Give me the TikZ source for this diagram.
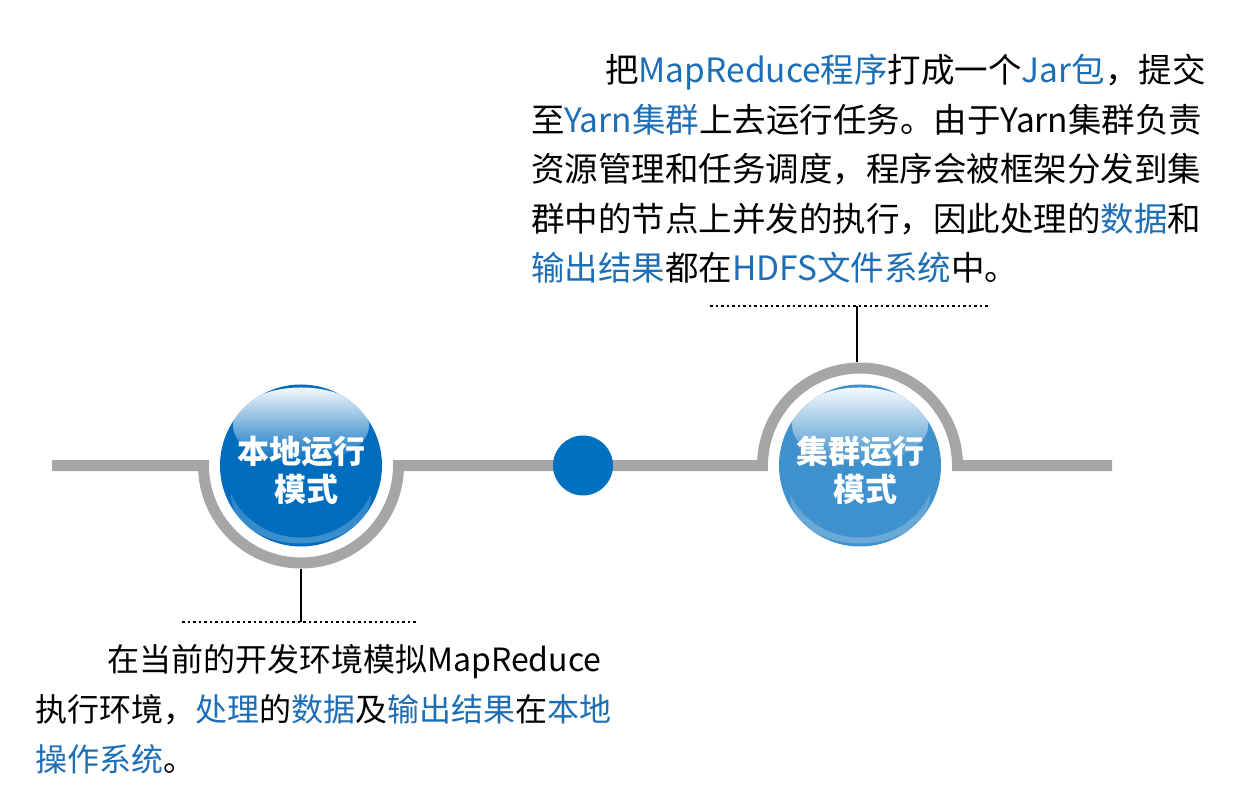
\documentclass[tikz,border=0pt]{standalone}
\usepackage{fontspec}
\setmainfont{Noto Sans CJK SC}
\usetikzlibrary{fadings}
\definecolor{tblue}{RGB}{30,110,182}
\definecolor{dotblue}{RGB}{0,112,192}
\definecolor{localc}{RGB}{0,108,190}
\definecolor{clusterc}{RGB}{62,145,204}
\definecolor{railc}{RGB}{166,166,166}
\tikzfading[name=glossfade, top color=transparent!5, bottom color=transparent!100]
\tikzfading[name=rimfade, top color=transparent!100, bottom color=transparent!75]
\newcommand\dropline[1]{\raisebox{-5pt}[\height][\depth]{#1}}
\tikzset{
  rail/.style={railc, line width=11pt},
  bubble/.style={circle, minimum size=162pt, inner sep=0pt, fill=#1, text=white,
    align=center, font=\fontsize{32}{38}\selectfont\bfseries,
    path picture={
      \fill[white, path fading=rimfade] ([yshift=-30pt]path picture bounding box.center) ellipse [x radius=70pt, y radius=48pt];
      \fill[#1] (path picture bounding box.center) ellipse [x radius=76pt, y radius=72pt];
      \fill[white, path fading=glossfade] ([yshift=40pt]path picture bounding box.center) ellipse [x radius=68pt, y radius=38pt];
    }},
  stem/.style={black, line width=2.5pt},
  dots/.style={black, line width=2.5pt, dash pattern=on 2.5pt off 3pt},
  para/.style={anchor=north west, inner sep=0pt, align=left, text width=720pt}
}
\begin{document}
\begin{tikzpicture}[x=1pt,y=1pt]
  \useasboundingbox (0,0) rectangle (1238,793);
  % rail with the two bows
  \draw[rail] (52,327.5) -- (203.5,327.5) arc[start angle=180, end angle=360, radius=97.5]
    -- (762.5,327.5) arc[start angle=180, end angle=0, radius=97.5] -- (1112,327.5);
  % modes
  \node[bubble=localc] (local) at (301,327.5) {\dropline{本地运行}\\\dropline{\hspace*{.35em}模式}};
  \node[circle, fill=dotblue, minimum size=60pt, inner sep=0pt] (mid) at (583,327.5) {};
  \node[bubble=clusterc] (cluster) at (860,327.5) {\dropline{集群运行}\\\dropline{\hspace*{.35em}模式}};
  % pointers to the texts
  \coordinate (lbow) at (301,224.5);
  \coordinate (lend) at (301,171);
  \coordinate (rbow) at (857,430.5);
  \coordinate (rend) at (857,487);
  \draw[stem] (lbow) -- (lend);
  \draw[stem] (rbow) -- (rend);
  \draw[dots] (182,171) -- (418,171);
  \draw[dots] (710,487) -- (990,487);
  % texts
  \node[para, font=\fontsize{33.5}{49.5}\selectfont] (clustertext) at (531,739) {%
    \hspace*{74pt}把\textcolor{tblue}{MapReduce程序}打成一个\textcolor{tblue}{Jar包}，提交\\
    至\textcolor{tblue}{Yarn集群}上去运行任务。由于Yarn集群负责\\
    资源管理和任务调度，程序会被框架分发到集\\
    群中的节点上并发的执行，因此处理的\textcolor{tblue}{数据}和\\
    \textcolor{tblue}{输出结果}都在\textcolor{tblue}{HDFS文件系统}中。};
  \node[para, font=\fontsize{32}{50}\selectfont] (localtext) at (35,149) {%
    \hspace*{72pt}在当前的开发环境模拟MapReduce\\
    执行环境，\textcolor{tblue}{处理}的\textcolor{tblue}{数据}及\textcolor{tblue}{输出结果}在\textcolor{tblue}{本地}\\
    \textcolor{tblue}{操作系统}。};
\end{tikzpicture}
\end{document}
